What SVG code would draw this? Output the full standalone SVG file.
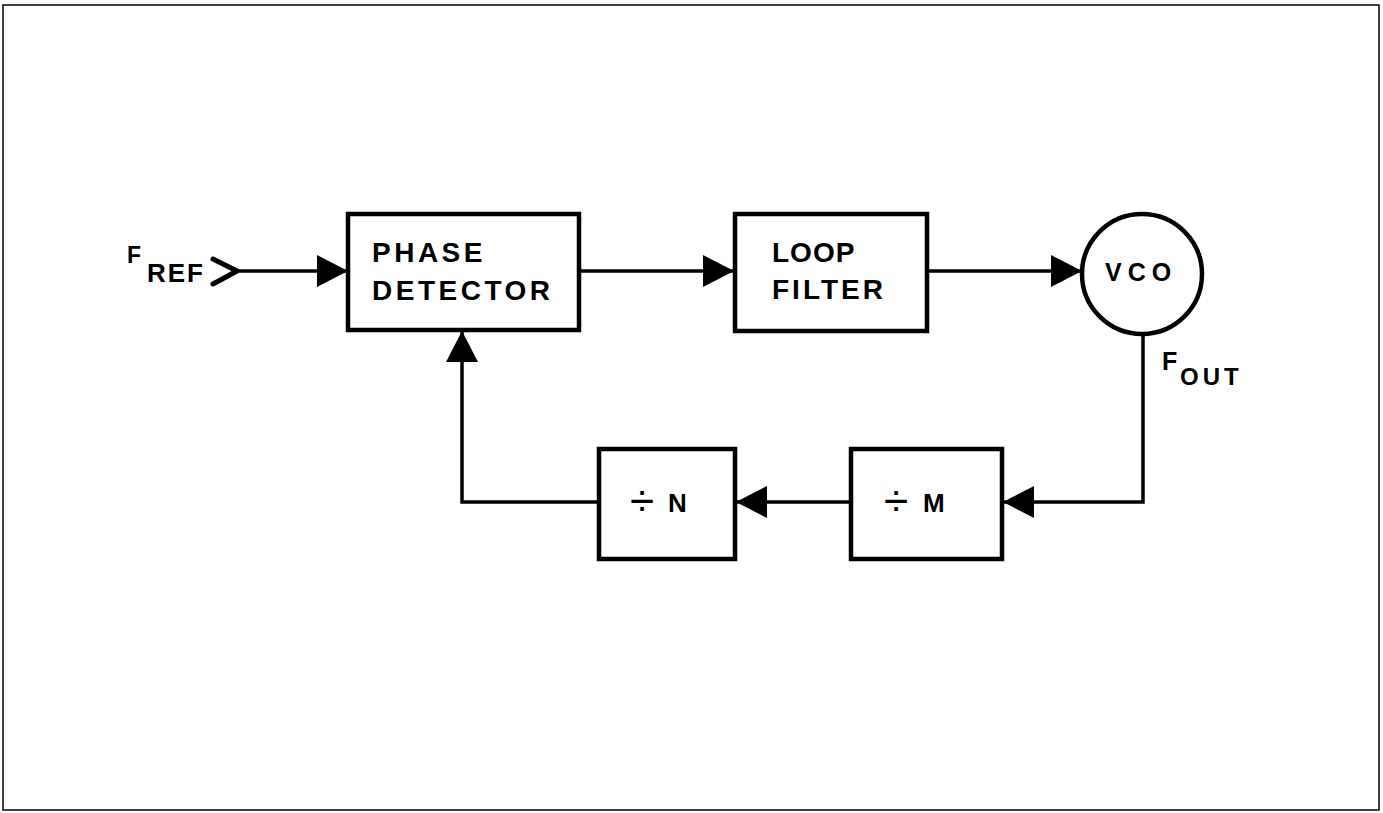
<svg xmlns="http://www.w3.org/2000/svg" width="1383" height="813" viewBox="0 0 1383 813">
<defs>
<style>
.box{fill:#fff;stroke:#000;stroke-width:4.5}
.wire{fill:none;stroke:#000;stroke-width:3.5}
.lbl{font-family:"Liberation Sans",Arial,sans-serif;font-weight:bold;font-size:28px;fill:#000;letter-spacing:3.5px}
.div{font-family:"Liberation Sans",Arial,sans-serif;font-weight:normal;font-size:44px;fill:#000}
</style>
<marker id="arr" markerUnits="userSpaceOnUse" markerWidth="31" markerHeight="32" viewBox="0 0 31 32" refX="30" refY="16" orient="auto">
<path d="M0,0 L31,16 L0,32 Z" fill="#000"/>
</marker>
</defs>
<rect x="0" y="0" width="1383" height="813" fill="#fff"/>
<rect x="3" y="5" width="1376" height="805" fill="none" stroke="#000" stroke-width="1.5"/>
<g id="connectors">
<polyline class="wire" points="213,259 237,271 213,284" style="stroke-width:5;stroke-linecap:round;stroke-linejoin:round"/>
<line class="wire" x1="237" y1="271" x2="347" y2="271" marker-end="url(#arr)"/>
<line class="wire" x1="580" y1="271" x2="733" y2="271" marker-end="url(#arr)"/>
<line class="wire" x1="928" y1="271" x2="1081" y2="271" marker-end="url(#arr)"/>
<path class="wire" d="M1143,333 V502 H1004" marker-end="url(#arr)"/>
<line class="wire" x1="849" y1="502" x2="737" y2="502" marker-end="url(#arr)"/>
<path class="wire" d="M598,502 H462 V332" marker-end="url(#arr)"/>
</g>
<g id="fref">
<text class="lbl" x="127" y="263" style="font-size:23px;letter-spacing:0">F</text>
<text class="lbl" x="147" y="282" style="font-size:26px;letter-spacing:2px">REF</text>
</g>
<g id="phase-detector">
<rect class="box" x="348" y="214" width="231" height="116"/>
<text class="lbl" x="372" y="262">PHASE</text>
<text class="lbl" x="372" y="300">DETECTOR</text>
</g>
<g id="loop-filter">
<rect class="box" x="735" y="214" width="192" height="117"/>
<text class="lbl" x="772" y="262" style="letter-spacing:1px">LOOP</text>
<text class="lbl" x="772" y="299" style="letter-spacing:3px">FILTER</text>
</g>
<g id="vco">
<circle class="box" cx="1142" cy="274" r="60"/>
<text class="lbl" x="1105" y="281" style="font-size:25px;letter-spacing:6px">VCO</text>
</g>
<g id="fout">
<text class="lbl" x="1162" y="370" style="font-size:25px;letter-spacing:0">F</text>
<text class="lbl" x="1180" y="385" style="font-size:24px;letter-spacing:4px">OUT</text>
</g>
<g id="div-n">
<rect class="box" x="599" y="449" width="136" height="110"/>
<text class="div" x="630" y="516">÷</text>
<text class="lbl" x="668" y="512" style="font-size:26px">N</text>
</g>
<g id="div-m">
<rect class="box" x="851" y="449" width="151" height="110"/>
<text class="div" x="884" y="516">÷</text>
<text class="lbl" x="923" y="512" style="font-size:26px">M</text>
</g>
</svg>
